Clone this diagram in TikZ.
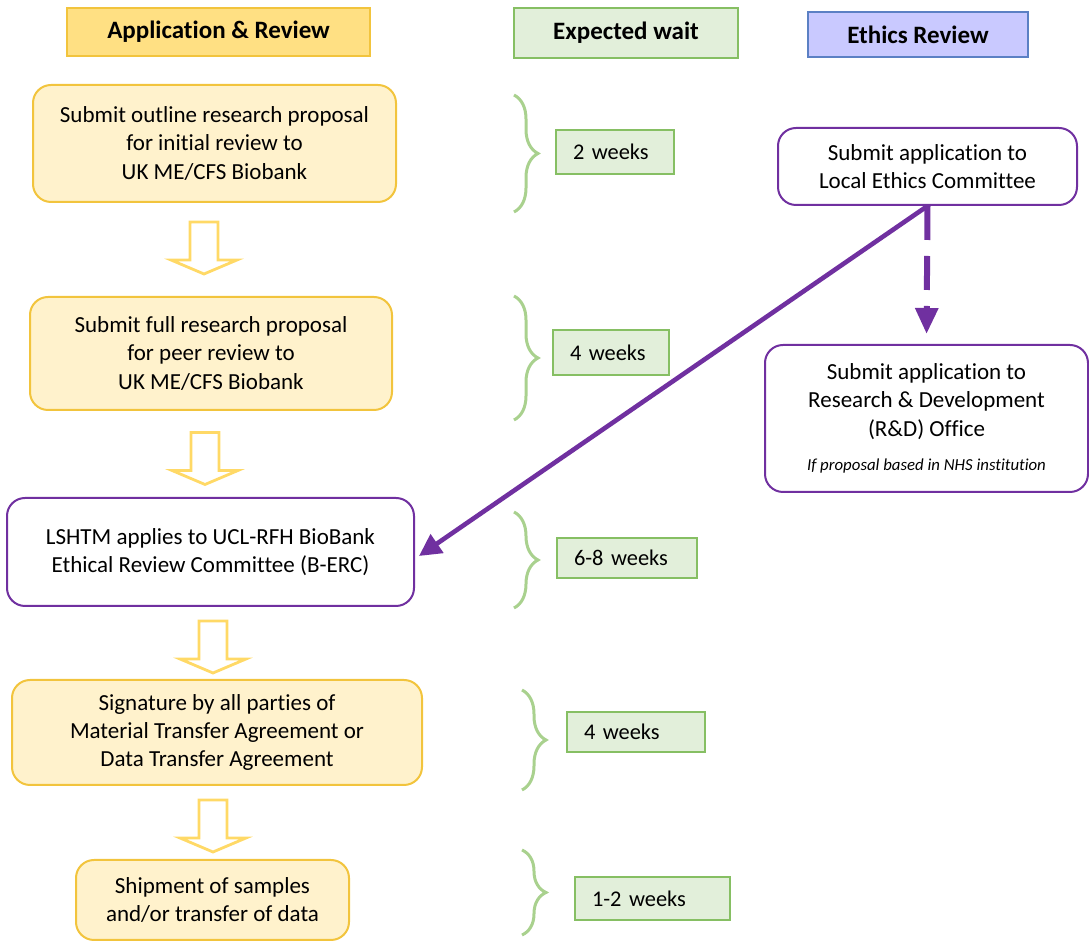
\documentclass[tikz,border=0pt]{standalone}
\usepackage{fontspec}
\setmainfont{Carlito}[Ligatures={NoCommon}]
\usetikzlibrary{arrows.meta,decorations.pathreplacing,calc}
\definecolor{yfill}{HTML}{FFF2CC}
\definecolor{yhdr}{HTML}{FFE083}
\definecolor{yborder}{HTML}{F2C43D}
\definecolor{yarrow}{HTML}{FFD966}
\definecolor{gfill}{HTML}{E2EFDA}
\definecolor{gborder}{HTML}{86BF63}
\definecolor{gbrace}{HTML}{A9D18E}
\definecolor{lfill}{HTML}{C9C9FF}
\definecolor{lborder}{HTML}{5B80C4}
\definecolor{purp}{HTML}{7030A0}
\tikzset{
  txt/.style={font=\fontsize{11.5}{14.2}\selectfont, align=center},
  hdr/.style={draw, line width=1pt, inner sep=0pt, font=\fontsize{12.5}{14}\selectfont\bfseries},
  ybox/.style={txt, draw=yborder, fill=yfill, line width=1pt, rounded corners=9pt, inner sep=0pt},
  pbox/.style={txt, draw=purp, fill=white, line width=1pt, rounded corners=9pt, inner sep=0pt},
  wbox/.style={font=\fontsize{11.2}{13}\selectfont, draw=gborder, fill=gfill, line width=1pt, inner ysep=0pt, inner xsep=8.5pt, align=left},
  gbr/.style={draw=gbrace, line width=1.5pt, decorate, decoration={brace, amplitude=12pt, aspect=0.5}},
  blockarrow/.pic={\draw[draw=yarrow, fill=white, line width=1.4pt, line join=miter]
      (-14,-26) -- (-14,12) -- (-33,12) -- (0,26) -- (33,12) -- (14,12) -- (14,-26) -- cycle;},
}
\begin{document}
\begin{tikzpicture}[x=0.5pt, y=-0.5pt]
\useasboundingbox (0,0) rectangle (1089,945);
% headers
\node[hdr, draw=yborder, fill=yhdr, minimum width=151.5pt, minimum height=24pt] (h1) at (218.5,32) {Application \& Review};
\node[hdr, draw=gborder, fill=gfill, minimum width=112pt, minimum height=25pt] (h2) at (626,33) {Expected wait};
\node[hdr, draw=lborder, fill=lfill, minimum width=110pt, minimum height=22.5pt] (h3) at (918,34.5) {Ethics Review};
% main boxes
\node[ybox, minimum width=181.5pt, minimum height=58.5pt] (b1) at (214.5,143.5) {Submit outline research proposal\\for initial review to\\UK ME/CFS Biobank};
\node[ybox, minimum width=181pt, minimum height=56.5pt] (b2) at (211,353.5) {Submit full research proposal\\for peer review to\\UK ME/CFS Biobank};
\node[pbox, minimum width=203.5pt, minimum height=54pt] (b3) at (210.5,552) {LSHTM applies to UCL-RFH BioBank\\Ethical Review Committee (B-ERC)};
\node[ybox, minimum width=205pt, minimum height=52.5pt] (b4) at (217,732.5) {Signature by all parties of\\Material Transfer Agreement or\\Data Transfer Agreement};
\node[ybox, minimum width=136.5pt, minimum height=40pt] (b5) at (212.5,900) {Shipment of samples\\and/or transfer of data};
% ethics boxes
\node[pbox, minimum width=149.5pt, minimum height=38.5pt] (lec) at (927.5,166.5) {Submit application to\\Local Ethics Committee};
\node[pbox, minimum width=161.5pt, minimum height=73.5pt] (rd) at (926.5,418.5) {Submit application to\\Research \& Development\\(R\&D) Office\\[3pt]{\fontsize{8.4}{10}\selectfont\itshape If proposal based in NHS institution}};
% wait boxes
\node[wbox, minimum width=59pt, minimum height=22pt, text width=42pt] (w1) at (615,152) {2 weeks};
\node[wbox, minimum width=58pt, minimum height=22.5pt, text width=41pt] (w2) at (611,352.5) {4 weeks};
\node[wbox, minimum width=70pt, minimum height=20pt, text width=53pt] (w3) at (627,558) {6-8 weeks};
\node[wbox, minimum width=69pt, minimum height=20pt, text width=52pt] (w4) at (636,732) {4 weeks};
\node[wbox, minimum width=77.5pt, minimum height=21.5pt, text width=60.5pt] (w5) at (652.5,898.5) {1-2 weeks};
% braces
\draw[gbr] (514,95) -- (514,212);
\draw[gbr] (514,296) -- (514,420);
\draw[gbr] (514,512) -- (514,608);
\draw[gbr] (522,690) -- (522,790);
\draw[gbr] (522,850) -- (522,935);
% block arrows
\pic at (204,248) {blockarrow};
\pic at (205,458.5) {blockarrow};
\pic at (213,647) {blockarrow};
\pic at (213,826) {blockarrow};
% purple connectors
\draw[purp, line width=2.3pt, -{Triangle[length=11pt,width=11pt]}] (lec.south) -- ([xshift=2pt,yshift=-2pt]b3.east);
\draw[purp, line width=3pt, dash pattern=on 17pt off 8pt, -{Triangle[length=13pt,width=11pt]}, shorten >=5pt] (lec.south) -- (rd.north);
\end{tikzpicture}
\end{document}
